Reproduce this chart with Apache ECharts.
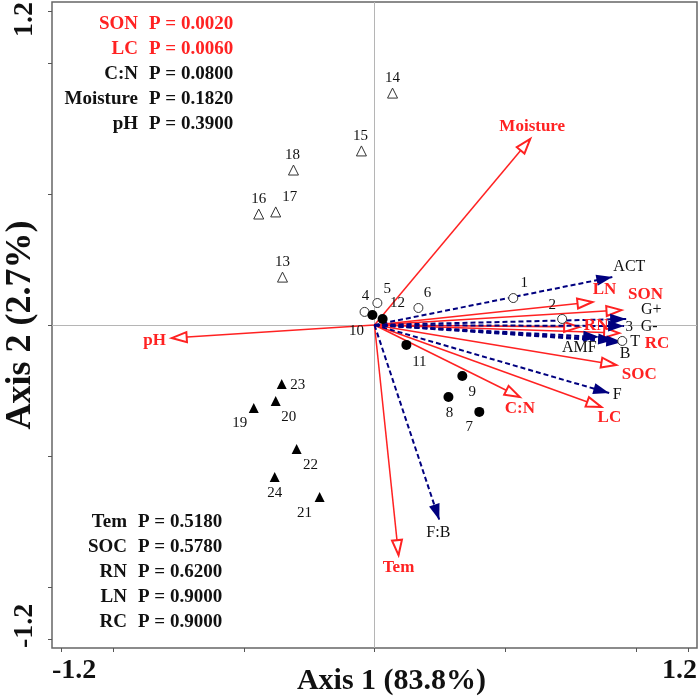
<!DOCTYPE html>
<html>
<head>
<meta charset="utf-8">
<script src="https://cdn.jsdelivr.net/npm/echarts@6/dist/echarts.min.js"></script>
<style>
html,body{margin:0;padding:0;background:#fff;}
#main{width:700px;height:696px;}
</style>
</head>
<body>
<div id="main"></div>
<script>
// sample scores 1-24 (axis 1, axis 2)
var siteNames = ['1','2','3','4','5','6','7','8','9','10','11','12','13','14','15','16','17','18','19','20','21','22','23','24'];
var siteAxis1 = [0.531, 0.718, 0.948, -0.038, 0.011, 0.168, 0.401, 0.283, 0.336, -0.008, 0.122, 0.031,
                 -0.352, 0.069, -0.050, -0.443, -0.378, -0.310, -0.462, -0.378, -0.210, -0.298, -0.355, -0.382];
var siteAxis2 = [0.103, 0.023, -0.061, 0.050, 0.084, 0.065, -0.332, -0.275, -0.195, 0.038, -0.076, 0.023,
                 0.183, 0.886, 0.665, 0.424, 0.432, 0.592, -0.317, -0.290, -0.657, -0.474, -0.225, -0.581];

// environmental factors (red arrows)
var envNames = ['Moisture', 'pH', 'Tem', 'C:N', 'LC', 'SOC', 'SON', 'LN', 'RN', 'RC'];
var envAxis1 = [0.596, -0.776, 0.092, 0.556, 0.868, 0.925, 0.945, 0.834, 0.783, 0.936];
var envAxis2 = [0.711, -0.050, -0.879, -0.275, -0.313, -0.153, 0.057, 0.088, -0.008, -0.031];

// microbial groups (blue dashed arrows)
var bioNames = ['ACT', 'G+', 'G-', 'T', 'B', 'AMF', 'F', 'F:B'];
var bioAxis1 = [0.910, 0.963, 0.955, 0.948, 0.917, 0.860, 0.898, 0.248];
var bioAxis2 = [0.183, 0.023, -0.004, -0.065, -0.057, -0.046, -0.260, -0.745];

// permutation test
var testNames = ['SON', 'LC', 'C:N', 'Moisture', 'pH', 'Tem', 'SOC', 'RN', 'LN', 'RC'];
var testP = [0.002, 0.006, 0.08, 0.182, 0.39, 0.518, 0.578, 0.62, 0.9, 0.9];

var axisEnd = 1.234;
var tickValues = [-1.2, -1, -0.5, 0, 0.5, 1, 1.2];

var serif = '"Liberation Serif", "Times New Roman", serif';
var red = '#ff2222';
var navy = '#00007f';

// label nudges, px
var siteShift = {
    '1':[11,-15],'2':[-10,-14],'3':[7,-14],'4':[1,-16],'5':[10,-14],'6':[9,-15],
    '7':[-10,15],'8':[1,16],'9':[10,16],'10':[-16,16],'11':[13,17],'12':[15,-16],
    '13':[0,-15],'14':[0,-15],'15':[-1,-15],'16':[0,-15],'17':[14,-15],'18':[-1,-15],
    '19':[-14,15],'20':[13,16],'21':[-15,16],'22':[14,16],'23':[16,1],'24':[0,16]
};
var arrowShift = {
    'Moisture':[2,-12],'pH':[-17,3],'Tem':[0,13],'C:N':[0,12],'LC':[8,11],'SOC':[23,10],
    'SON':[24,-15],'LN':[12,-12],'RN':[17,-1],'RC':[38,10],
    'ACT':[17,-10],'G+':[25,-9],'G-':[25,1],'T':[13,0],'B':[11,14],'AMF':[-20,11],'F':[8,2],'F:B':[-1,13]
};

function arrowData(names, xs, ys) {
    return names.map(function (n, i) {
        return {name: n, coords: [[0, 0], [xs[i], ys[i]]]};
    });
}
function tipData(names, xs, ys) {
    return names.map(function (n, i) {
        return {name: n, value: [xs[i], ys[i]], label: {offset: arrowShift[n]}};
    });
}
function siteGroup(g) {
    var out = [];
    for (var i = g * 6; i < g * 6 + 6; i++) {
        out.push({name: siteNames[i], value: [siteAxis1[i], siteAxis2[i]], label: {offset: siteShift[siteNames[i]]}});
    }
    return out;
}

var siteLabel = {
    show: true, position: 'inside', formatter: '{b}', color: '#111',
    fontFamily: serif, fontSize: 15, align: 'center', verticalAlign: 'middle', textBorderWidth: 0
};
var siteStyles = [
    {symbol: 'circle', symbolSize: 9, itemStyle: {color: '#fff', borderColor: '#333', borderWidth: 1, opacity: 1}},
    {symbol: 'circle', symbolSize: 10, itemStyle: {color: '#000', opacity: 1}},
    {symbol: 'triangle', symbolSize: 10, itemStyle: {color: '#fff', borderColor: '#333', borderWidth: 1, opacity: 1}},
    {symbol: 'triangle', symbolSize: 10, itemStyle: {color: '#000', opacity: 1}}
];

var series = [
    {
        type: 'lines', coordinateSystem: 'cartesian2d', z: 3,
        data: arrowData(envNames, envAxis1, envAxis2),
        symbol: ['none', 'emptyPath://M5,0 M5,15 L10,30 L0,30 Z'],
        symbolSize: [[10, 30], [10, 30]],
        lineStyle: {color: red, width: 1.5, opacity: 1, curveness: 0},
        silent: true,
        markLine: {
            silent: true, z: 1, symbol: 'none', label: {show: false},
            lineStyle: {color: '#b5b5b5', type: 'solid', width: 1},
            data: [{xAxis: 0}, {yAxis: 0}]
        }
    },
    {
        type: 'lines', coordinateSystem: 'cartesian2d', z: 3,
        data: arrowData(bioNames, bioAxis1, bioAxis2),
        symbol: ['none', 'path://M5,0 M5,16 L10,32 L0,32 Z'],
        symbolSize: [[11, 32], [11, 32]],
        lineStyle: {color: navy, width: 2, type: [5, 3], opacity: 1, curveness: 0},
        silent: true
    }
];
for (var g = 0; g < 4; g++) {
    series.push({
        type: 'scatter', z: 4, data: siteGroup(g),
        symbol: siteStyles[g].symbol, symbolSize: siteStyles[g].symbolSize,
        itemStyle: siteStyles[g].itemStyle, label: siteLabel, silent: true
    });
}
series.push({
    type: 'scatter', z: 5, symbolSize: 0, silent: true, itemStyle: {opacity: 1},
    data: tipData(envNames, envAxis1, envAxis2),
    label: {show: true, position: 'inside', formatter: '{b}', color: red, fontFamily: serif,
        fontWeight: 'bold', fontSize: 17, align: 'center', verticalAlign: 'middle', textBorderWidth: 0}
});
series.push({
    type: 'scatter', z: 5, symbolSize: 0, silent: true, itemStyle: {opacity: 1},
    data: tipData(bioNames, bioAxis1, bioAxis2),
    label: {show: true, position: 'inside', formatter: '{b}', color: '#111', fontFamily: serif,
        fontSize: 16, align: 'center', verticalAlign: 'middle', textBorderWidth: 0}
});

// P-value table
var graphics = [];
testNames.forEach(function (n, i) {
    var top = i < 5;
    var k = top ? i : i - 5;
    var y = (top ? 24 : 522) + k * 25;
    var nameRight = top ? 138 : 127;
    var col = testP[i] < 0.05 ? red : '#111';
    var font = 'bold 19px ' + serif;
    graphics.push({type: 'text', x: nameRight, y: y, z: 10,
        style: {text: n, align: 'right', verticalAlign: 'middle', font: font, fill: col}});
    graphics.push({type: 'text', x: nameRight + 11, y: y, z: 10,
        style: {text: 'P = ' + testP[i].toFixed(4), align: 'left', verticalAlign: 'middle', font: font, fill: col}});
});

var chart = echarts.init(document.getElementById('main'), null, {renderer: 'canvas'});
chart.setOption({
    animation: false,
    backgroundColor: '#fff',
    grid: {left: 52, right: 3, top: 2, bottom: 48, show: true, borderColor: '#666', borderWidth: 1.5,
        containLabel: false, outerBoundsMode: 'none'},
    xAxis: {
        type: 'value', min: -axisEnd, max: axisEnd,
        name: 'Axis 1 (83.8%)', nameLocation: 'middle', nameGap: 18, nameMoveOverlap: false,
        nameTextStyle: {fontFamily: serif, fontWeight: 'bold', fontSize: 30, color: '#111', padding: [0, 0, 0, 34]},
        axisLine: {show: false, onZero: false},
        axisTick: {show: true, length: 4, customValues: tickValues, lineStyle: {color: '#555'}},
        axisLabel: {customValues: [-axisEnd, axisEnd], margin: 9, alignMinLabel: 'left', alignMaxLabel: 'right',
            formatter: function (v) { return v.toFixed(1); },
            fontFamily: serif, fontWeight: 'bold', fontSize: 28, color: '#111'},
        splitLine: {show: false}
    },
    yAxis: {
        type: 'value', min: -axisEnd, max: axisEnd,
        name: 'Axis 2 (2.7%)', nameLocation: 'middle', nameGap: 13, nameRotate: 90, nameMoveOverlap: false,
        nameTextStyle: {fontFamily: serif, fontWeight: 'bold', fontSize: 36, color: '#111'},
        axisLine: {show: false, onZero: false},
        axisTick: {show: true, length: 4, customValues: tickValues, lineStyle: {color: '#555'}},
        axisLabel: {customValues: [-axisEnd, axisEnd], rotate: 90, margin: 13, alignMinLabel: 'left', alignMaxLabel: 'right',
            formatter: function (v) { return v.toFixed(1); },
            fontFamily: serif, fontWeight: 'bold', fontSize: 28, color: '#111'},
        splitLine: {show: false}
    },
    graphic: graphics,
    series: series
});
</script>
</body>
</html>
